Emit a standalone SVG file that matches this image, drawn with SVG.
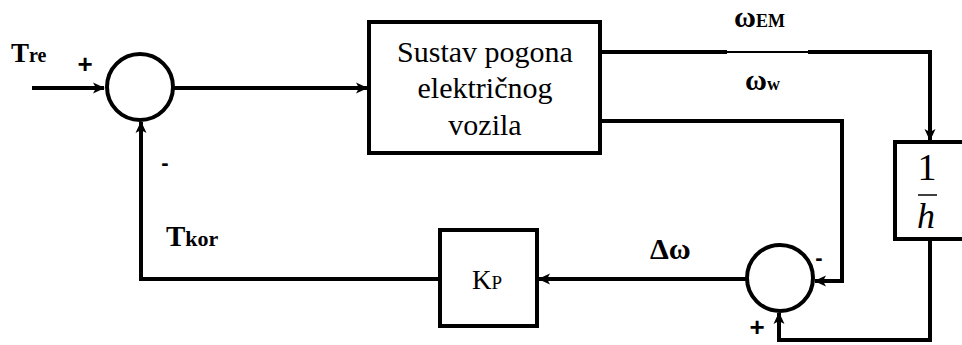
<svg xmlns="http://www.w3.org/2000/svg" width="962" height="345" viewBox="0 0 962 345">
<defs>
<marker id="ah" markerWidth="12" markerHeight="12" refX="11" refY="6" orient="auto" markerUnits="userSpaceOnUse">
<path d="M0,0.5 L12,6 L0,11.5 L3,6 Z" fill="#000"/>
</marker>
</defs>
<style>
.blk{fill:#fff;stroke:#000;stroke-width:4}
.sum{fill:#fff;stroke:#000;stroke-width:4}
.ln{fill:none;stroke:#000;stroke-width:4}
</style>
<rect width="962" height="345" fill="#fff"/>
<g id="connectors">
<path class="ln" d="M32,88 L104,88" marker-end="url(#ah)"/>
<path class="ln" d="M174,88 L367,88" marker-end="url(#ah)"/>
<path class="ln" d="M600,52 L727,52"/>
<path d="M727,52 L808,52" stroke="#000" stroke-width="2" fill="none"/>
<path class="ln" d="M808,52 L930,52 L930,140" marker-end="url(#ah)"/>
<path class="ln" d="M600,121 L842,121 L842,281 L815,281" marker-end="url(#ah)"/>
<path class="ln" d="M930,239 L930,340 L779,340 L779,313" marker-end="url(#ah)"/>
<path class="ln" d="M747,279 L539,279" marker-end="url(#ah)"/>
<path class="ln" d="M440,279 L141,279 L141,122" marker-end="url(#ah)"/>
</g>
<g id="sum1">
<circle class="sum" cx="140" cy="87" r="33"/>
</g>
<g id="plant">
<rect class="blk" x="369" y="22" width="231" height="131"/>
<text x="485" y="62" font-family="'Liberation Serif', serif" font-size="30" text-anchor="middle">Sustav pogona</text>
<text x="485" y="98" font-family="'Liberation Serif', serif" font-size="30" text-anchor="middle">električnog</text>
<text x="485" y="135" font-family="'Liberation Serif', serif" font-size="30" text-anchor="middle">vozila</text>
</g>
<g id="inv-h">
<rect class="blk" x="895" y="142" width="70" height="97"/>
<text x="927" y="180" font-family="'Liberation Serif', serif" font-size="38" text-anchor="middle">1</text>
<path d="M918,195 L937,195" stroke="#000" stroke-width="1.5"/>
<text x="926" y="228" font-family="'Liberation Serif', serif" font-style="italic" font-size="36" text-anchor="middle">h</text>
</g>
<g id="sum2">
<circle class="sum" cx="780" cy="278" r="33"/>
</g>
<g id="kp">
<rect class="blk" x="440" y="230" width="97" height="96"/>
<text x="472" y="289" font-family="'Liberation Serif', serif" font-size="27">K<tspan font-size="19">P</tspan></text>
</g>
<g id="labels">
<text x="11" y="62" font-family="'Liberation Serif', serif" font-weight="bold" font-size="27">T<tspan font-size="20">re</tspan></text>
<text x="85" y="73" font-family="'Liberation Sans', sans-serif" font-weight="bold" font-size="26" text-anchor="middle">+</text>
<text x="165" y="170" font-family="'Liberation Sans', sans-serif" font-weight="bold" font-size="22" text-anchor="middle">-</text>
<text x="166" y="246" font-family="'Liberation Serif', serif" font-weight="bold" font-size="29">T<tspan font-size="22">kor</tspan></text>
<text x="650" y="259" font-family="'Liberation Serif', serif" font-weight="bold" font-size="30">Δω</text>
<text x="734" y="27" font-family="'Liberation Serif', serif" font-weight="bold" font-size="30">ω<tspan font-size="18">EM</tspan></text>
<text x="745" y="90" font-family="'Liberation Serif', serif" font-weight="bold" font-size="30">ω<tspan font-size="18">w</tspan></text>
<text x="819" y="265" font-family="'Liberation Sans', sans-serif" font-weight="bold" font-size="22" text-anchor="middle">-</text>
<text x="757" y="336" font-family="'Liberation Sans', sans-serif" font-weight="bold" font-size="26" text-anchor="middle">+</text>
</g>
</svg>
